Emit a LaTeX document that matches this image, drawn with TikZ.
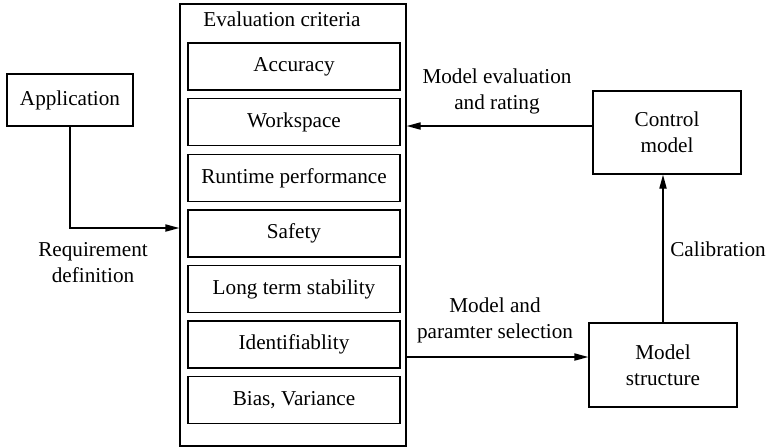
\documentclass[tikz,border=0pt]{standalone}
\usepackage{fontspec}
\setmainfont{Liberation Serif}
\usetikzlibrary{arrows.meta}
\begin{document}
\begin{tikzpicture}[x=0.5pt,y=-0.5pt,
  font=\fontsize{10.6pt}{13pt}\selectfont,
  box/.style={draw,line width=0.7pt,inner sep=0pt,align=center},
  critbox/.style={box,minimum width=106pt,minimum height=23.5pt},
  lbl/.style={align=center,inner sep=0pt},
  arr/.style={draw,line width=0.7pt,-{Triangle[length=7pt,width=3.6pt]}}]
\useasboundingbox (0,0) rectangle (770,447);

% evaluation frame with its criteria
\node[box,minimum width=113pt,minimum height=221pt] (ev) at (293,225) {};
\node[lbl] (evt) at (282,19) {Evaluation criteria};
\node[critbox] (c1) at (294,66.5)  {Accuracy};
\node[critbox] (c2) at (294,122.2) {Workspace};
\node[critbox] (c3) at (294,177.8) {Runtime performance};
\node[critbox] (c4) at (294,233.4) {Safety};
\node[critbox] (c5) at (294,289)   {Long term stability};
\node[critbox] (c6) at (294,344.6) {Identifiablity};
\node[critbox] (c7) at (294,400.2) {Bias, Variance};

% outer blocks
\node[box,minimum width=63pt,minimum height=26pt] (app) at (70,100) {Application};
\node[box,minimum width=74pt,minimum height=41.5pt] (cm) at (667,132.5) {Control\\model};
\node[box,minimum width=74pt,minimum height=42pt] (ms) at (663,365) {Model\\structure};

% rows where the horizontal connectors run
\coordinate (reqy) at (0,228);
\coordinate (evaly) at (0,126);
\coordinate (sely) at (0,357);

% connectors
\draw[arr] (app.south) |- (ev.west |- reqy);
\draw[arr] (cm.west |- evaly) -- (ev.east |- evaly);
\draw[arr] (ev.east |- sely) -- (ms.west |- sely);
\draw[arr] (ms.north) -- (ms.north |- cm.south);

% connector labels
\node[lbl] (lreq) at (93,263) {Requirement\\definition};
\node[lbl] (leval) at (497,91) {Model evaluation\\and rating};
\node[lbl] (lsel) at (495,320) {Model and\\paramter selection};
\node[lbl] (lcal) at (718,249) {Calibration};
\end{tikzpicture}
\end{document}
